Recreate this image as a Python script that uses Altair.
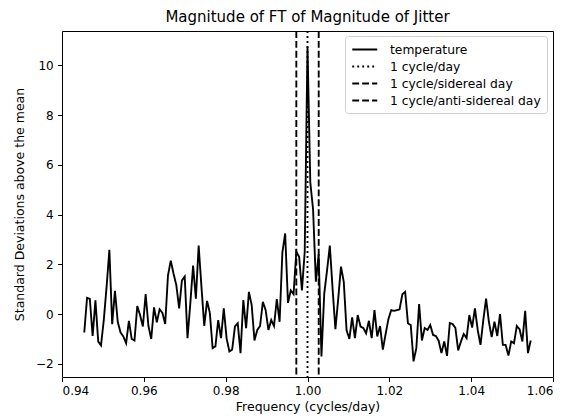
import altair as alt
import pandas as pd

# Standard deviations above the mean (161 samples)
temperature = [
    -0.74, 0.65, 0.61, -0.88, 0.55, -1.10, -1.26, -0.24, 1.09, 2.58,
    -0.41, 0.93, -0.31, -0.74, -0.90, -1.17, -0.27, -1.00, -1.06, 0.32,
    -0.04, -0.50, 0.80, -0.48, -1.00, 0.27, -0.33, 0.19, 0.05, -0.40,
    1.55, 2.15, 1.62, 1.16, 0.23, 1.35, 1.51, -0.97, 0.42, 1.95,
    0.62, 2.75, 1.09, -0.48, 0.53, 0.05, -1.37, -1.30, -0.24, -0.97,
    0.23, -0.97, -1.50, -1.43, -0.50, -0.37, -1.57, 0.56, -0.57, 0.89,
    0.36, -1.06, -0.64, -0.48, 0.49, 0.16, -0.64, -0.24, -0.48, 0.60,
    -0.31, 2.48, 3.24, 0.45, 0.95, 0.80, 2.50, 2.30, 0.95, 2.50,
    10.75, 5.30, 4.20, 1.30, 2.40, -1.70, 0.82, 1.75, 2.75, 1.00,
    -0.61, 0.60, 1.91, 1.29, -0.65, -1.00, -0.13, -0.97, -0.04, -0.50,
    -0.56, -0.77, -0.27, -0.97, 0.16, -0.90, -0.48, -1.43, -0.80, -0.20,
    0.16, 0.13, 0.16, 0.19, 0.80, 0.89, -0.37, -0.44, -1.90, -1.37,
    0.40, -1.06, -0.56, -0.64, -0.44, -0.84, -0.88, -1.07, -1.57, -1.10,
    -1.68, -0.36, -0.40, -0.56, -1.46, -1.10, -0.80, -0.97, -0.04, -0.54,
    0.23, -0.64, -1.24, -0.24, 0.62, -0.31, -0.93, -0.31, -0.88, 0.00,
    -1.24, -1.24, -1.67, -1.10, -1.17, -0.48, -0.61, -1.10, 0.13, -1.57,
    -1.06,
]
FREQ_START = 0.94544
FREQ_STEP = 0.000682
frequency = [round(FREQ_START + i * FREQ_STEP, 6) for i in range(len(temperature))]

ref_names = ["1 cycle/day", "1 cycle/sidereal day", "1 cycle/anti-sidereal day"]
ref_freqs = [1.0, 1.0027379, 0.9972696]

series_order = ["temperature"] + ref_names
dash_range = [[1, 0], [1.9, 3.1], [6.9, 3.0], [6.9, 3.0]]

x_ticks = [0.94, 0.96, 0.98, 1.00, 1.02, 1.04, 1.06]
y_ticks = [-2, 0, 2, 4, 6, 8, 10]

FONT = "DejaVu Sans"
LW = 1.875

line_df = pd.DataFrame({"freq": frequency, "value": temperature, "series": "temperature"})
ref_df = pd.DataFrame({"freq": ref_freqs, "series": ref_names})

x_enc = alt.X(
    "freq:Q",
    scale=alt.Scale(domain=[0.94, 1.06], nice=False, zero=False),
    axis=alt.Axis(title="Frequency (cycles/day)", values=x_ticks, format=".2f",
                  titlePadding=4),
)
y_enc = alt.Y(
    "value:Q",
    scale=alt.Scale(domain=[-2.53, 11.38], nice=False, zero=False),
    axis=alt.Axis(title="Standard Deviations above the mean", values=y_ticks,
                  format="d", titlePadding=9),
)
dash_enc = alt.StrokeDash(
    "series:N",
    scale=alt.Scale(domain=series_order, range=dash_range),
    legend=alt.Legend(
        title=None, orient="none", legendX=283, legendY=5,
        symbolType="M-1,0H3", symbolSize=156, symbolStrokeWidth=LW,
        symbolStrokeColor="black", labelFontSize=12.3, labelFont=FONT,
        labelColor="black", labelOffset=24, rowPadding=3, padding=6,
        strokeColor="#d0d0d0", fillColor="rgba(255,255,255,0.8)",
        cornerRadius=3, labelLimit=300,
    ),
)

line = alt.Chart(line_df).mark_line(color="black", strokeWidth=LW).encode(
    x=x_enc, y=y_enc, strokeDash=dash_enc
)
rules = alt.Chart(ref_df).mark_rule(color="black", strokeWidth=LW).encode(
    x=alt.X("freq:Q"), strokeDash=dash_enc
)

chart = (
    alt.layer(line, rules)
    .properties(
        width=491, height=346,
        title=alt.TitleParams(
            text="Magnitude of FT of Magnitude of Jitter", fontSize=15,
            font=FONT, fontWeight="normal", color="black", offset=5,
            anchor="middle",
        ),
        padding={"left": 54, "top": 23, "right": 15, "bottom": 40},
        autosize=alt.AutoSizeParams(type="none"),
    )
    .configure_view(stroke="black", strokeWidth=1)
    .configure_axis(
        domain=False, grid=False, tickColor="black", tickWidth=1, tickSize=4.4,
        labelColor="black", labelFontSize=12, labelFont=FONT,
        titleFont=FONT, titleFontSize=12.5, titleFontWeight="normal",
        titleColor="black", labelPadding=4.4,
    )
)

chart.save("out.html", embed_options={"renderer": "svg", "actions": False})
